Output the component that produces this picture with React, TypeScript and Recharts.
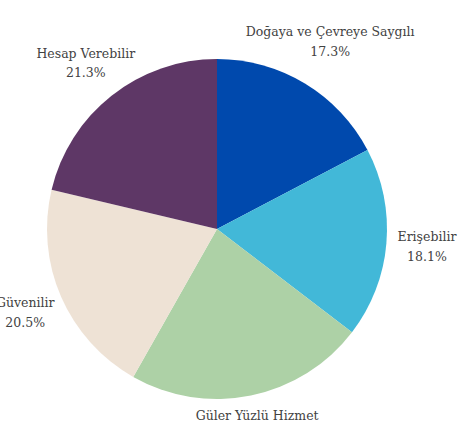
import { PieChart, Pie, Cell } from 'recharts'

const categories = ['Doğaya ve Çevreye Saygılı', 'Erişebilir', 'Güler Yüzlü Hizmet', 'Güvenilir', 'Hesap Verebilir']
const shares = [17.3, 18.1, 22.8, 20.5, 21.3]
const colors = ['#0049AD', '#42B8D8', '#ADD1A6', '#EEE2D5', '#5E3766']

const data = categories.map((name, i) => ({ name, value: shares[i] }))

const RADIAN = Math.PI / 180
const FONT = "12.5px 'DejaVu Serif', serif"

const ctx = document.createElement('canvas').getContext('2d')
const textWidth = (t: string) => {
  if (!ctx) return t.length * 6.5
  ctx.font = FONT
  return ctx.measureText(t).width
}

// etiket iki satır: isim + yüzde; kutu genişliğine göre dışarı itilir
const renderLabel = (props: any) => {
  const { cx, cy, midAngle, index } = props
  const c = Math.cos(-midAngle * RADIAN)
  const s = Math.sin(-midAngle * RADIAN)
  const w = textWidth(categories[index])
  const r = 194 + 0.57 * Math.abs(c) * (w / 2)
  const x = cx + r * c
  const y = cy + r * s
  return (
    <text x={x} y={y} textAnchor="middle" fill="#424242" fontFamily="'DejaVu Serif', serif" fontSize={12.5}>
      <tspan x={x} dy={-5.5}>{categories[index]}</tspan>
      <tspan x={x} dy={19.5}>{shares[index].toFixed(1)}%</tspan>
    </text>
  )
}

export default function App() {
  return (
    <div style={{ position: 'absolute', left: 0, top: 0, width: 463, height: 428, background: '#fff', overflow: 'hidden' }}>
      <PieChart width={463} height={428} margin={{ top: 0, right: 0, bottom: 0, left: 0 }}>
        <Pie
          data={data}
          dataKey="value"
          nameKey="name"
          cx={217}
          cy={229}
          outerRadius={170}
          startAngle={90}
          endAngle={-270}
          stroke="none"
          label={renderLabel}
          labelLine={false}
          isAnimationActive={false}
        >
          {data.map((d, i) => (
            <Cell key={d.name} fill={colors[i]} />
          ))}
        </Pie>
      </PieChart>
    </div>
  )
}
